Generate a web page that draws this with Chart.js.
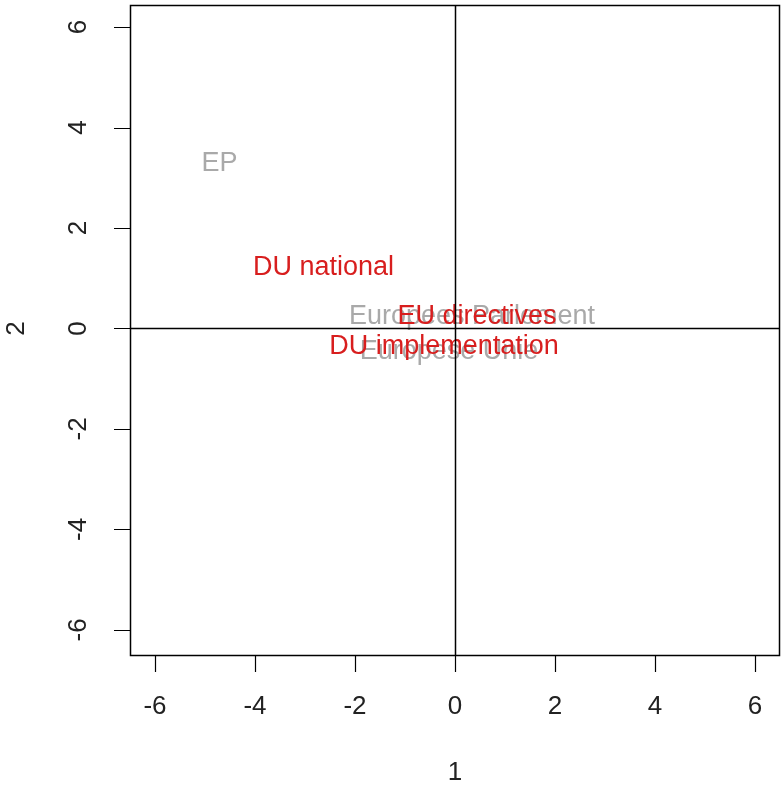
<!DOCTYPE html>
<html>
<head>
<meta charset="utf-8">
<script src="https://cdn.jsdelivr.net/npm/chart.js@4.4.1/dist/chart.umd.min.js"></script>
<style>
  html, body { margin: 0; padding: 0; background: #ffffff; }
  #wrap { width: 784px; height: 787px; }
</style>
</head>
<body>
<div id="wrap"><canvas id="c" width="784" height="787"></canvas></div>
<script>
// Row profiles (red) and column profiles (grey) on dimensions 1 and 2
const rowLabels = ["DU national", "EU directives", "DU implementation"];
const rowDim1 = [-2.63, 0.44, -0.22];
const rowDim2 = [1.21, 0.24, -0.36];

const colLabels = ["EP", "Europees Parlement", "Europese Unie"];
const colDim1 = [-4.71, 0.34, -0.12];
const colDim2 = [3.28, 0.24, -0.46];

const xTicks = [-6, -4, -2, 0, 2, 4, 6];
const yTicks = [-6, -4, -2, 0, 2, 4, 6];
const xTitle = "1";
const yTitle = "2";

const FONT = "'Liberation Sans', Arial, sans-serif";

function points(xs, ys, labels) {
  return xs.map((x, i) => ({ x: x, y: ys[i], label: labels[i] }));
}

// Writes each point's label centred on its position, draws the reference
// lines through the origin, the frame, and the axis tick labels / titles.
const biplotText = {
  id: 'biplotText',
  afterDatasetsDraw(chart) {
    const { ctx, chartArea: a, scales: { x, y } } = chart;
    ctx.save();
    ctx.textAlign = 'center';
    ctx.textBaseline = 'middle';
    ctx.font = '27px ' + FONT;
    chart.data.datasets.forEach(ds => {
      ctx.fillStyle = ds.textColor;
      ds.data.forEach(p => {
        ctx.fillText(p.label, x.getPixelForValue(p.x), y.getPixelForValue(p.y));
      });
    });

    // lines through the origin
    ctx.strokeStyle = '#000';
    ctx.lineWidth = 1.5;
    const x0 = Math.round(x.getPixelForValue(0)) + 0.5;
    const y0 = Math.round(y.getPixelForValue(0)) + 0.5;
    ctx.beginPath();
    ctx.moveTo(x0, a.top); ctx.lineTo(x0, a.bottom);
    ctx.moveTo(a.left, y0); ctx.lineTo(a.right, y0);
    ctx.stroke();

    // frame
    ctx.lineWidth = 1.5;
    ctx.strokeRect(a.left + 0.5, a.top + 0.5, a.right - a.left - 1, a.bottom - a.top - 1);

    // tick marks and labels
    ctx.fillStyle = '#222';
    ctx.font = '26px ' + FONT;
    ctx.lineWidth = 1.2;
    ctx.beginPath();
    xTicks.forEach(v => {
      const px = Math.round(x.getPixelForValue(v)) + 0.5;
      ctx.moveTo(px, a.bottom); ctx.lineTo(px, a.bottom + 16);
    });
    yTicks.forEach(v => {
      const py = Math.round(y.getPixelForValue(v)) + 0.5;
      ctx.moveTo(a.left, py); ctx.lineTo(a.left - 16, py);
    });
    ctx.stroke();

    xTicks.forEach(v => {
      ctx.fillText(String(v), x.getPixelForValue(v), 707);
    });
    yTicks.forEach(v => {
      ctx.save();
      ctx.translate(79, y.getPixelForValue(v));
      ctx.rotate(-Math.PI / 2);
      ctx.fillText(String(v), 0, 0);
      ctx.restore();
    });

    // axis titles
    ctx.fillText(xTitle, x.getPixelForValue(0), 773);
    ctx.save();
    ctx.translate(17, y.getPixelForValue(0));
    ctx.rotate(-Math.PI / 2);
    ctx.fillText(yTitle, 0, 0);
    ctx.restore();
    ctx.restore();
  }
};

new Chart(document.getElementById('c'), {
  type: 'scatter',
  data: {
    datasets: [
      { label: 'columns', data: points(colDim1, colDim2, colLabels), textColor: '#a9a9a9', pointRadius: 0 },
      { label: 'rows', data: points(rowDim1, rowDim2, rowLabels), textColor: '#d81e1e', pointRadius: 0 }
    ]
  },
  options: {
    responsive: false,
    animation: false,
    layout: { padding: { top: 5, right: 4, left: 0, bottom: 0 } },
    plugins: { legend: { display: false }, tooltip: { enabled: false } },
    scales: {
      x: {
        type: 'linear', min: -6.5, max: 6.5,
        ticks: { display: false, stepSize: 2, includeBounds: false },
        grid: { display: false },
        border: { display: false },
        afterFit(s) { s.height = 131; }
      },
      y: {
        type: 'linear', min: -6.52, max: 6.44,
        ticks: { display: false, stepSize: 2, includeBounds: false },
        grid: { display: false },
        border: { display: false },
        afterFit(s) { s.width = 130; }
      }
    }
  },
  plugins: [biplotText]
});
</script>
</body>
</html>
